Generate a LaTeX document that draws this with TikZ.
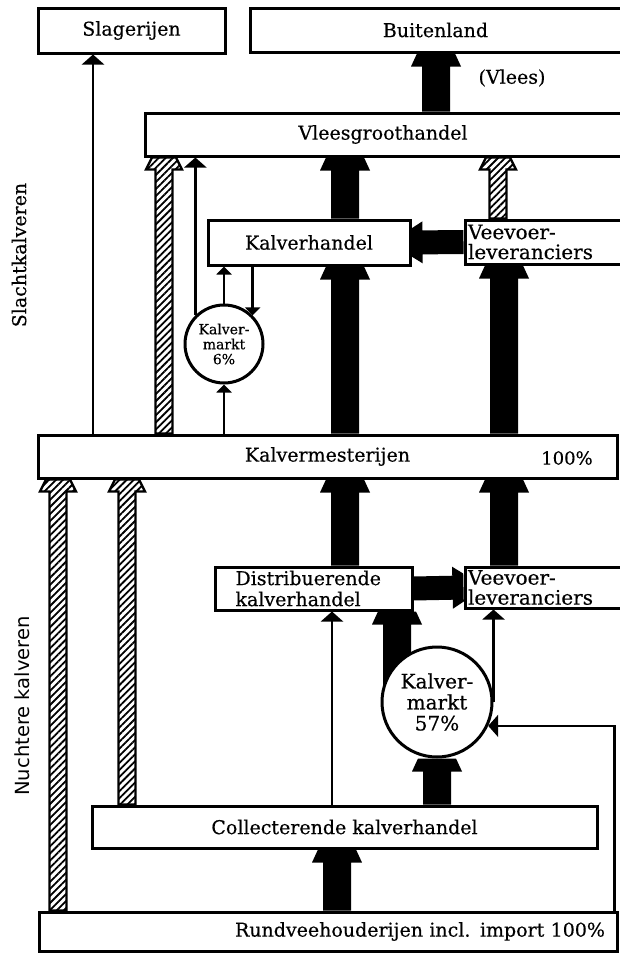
\documentclass[tikz,border=0pt]{standalone}
\usepackage{fontspec}
\setmainfont{DejaVu Serif}[FakeBold=0.4]
\newfontfamily\sidesans{DejaVu Sans}
\usetikzlibrary{calc,arrows.meta,patterns.meta,backgrounds}

% broad arrow: style, shaft half, head half, tip half, head length, from, to
\newcommand{\flowshape}[7]{%
    \coordinate (fa) at #6;
    \coordinate (fb) at #7;
    \coordinate (fc) at ($(fb)!#5!(fa)$);
    \path[#1] ($(fa)!#2!90:(fb)$) -- ($(fc)!#2!90:(fb)$) -- ($(fc)!#3!90:(fb)$)
        -- ($(fb)!#4!-90:(fa)$) -- ($(fb)!#4!90:(fa)$) -- ($(fc)!#3!-90:(fb)$)
        -- ($(fc)!#2!-90:(fb)$) -- ($(fa)!#2!-90:(fb)$) -- cycle;
}
\newcommand{\blackflow}[2]{\flowshape{fill=black}{14pt}{25pt}{19pt}{13pt}{#1}{#2}}
\newcommand{\sideflow}[2]{\flowshape{fill=black}{12pt}{21pt}{14pt}{11pt}{#1}{#2}}
\newcommand{\hatchflow}[2]{\flowshape{hatch}{8.5pt}{18pt}{12pt}{12pt}{#1}{#2}}

\begin{document}
\begin{tikzpicture}[x=1pt,y=-1pt]

    \tikzset{box/.style={draw,line width=3pt,fill=white,inner sep=0pt,
        font=\fontsize{19}{21}\selectfont},
        market/.style={draw,shape=circle,line width=3pt,fill=white,inner sep=0pt,align=center},
        thinflow/.style={line width=2.3pt,-{Triangle[width=22pt,length=10pt]}},
        smallflow/.style={line width=2.3pt,-{Triangle[width=15pt,length=8pt]}},
        hatch/.style={draw=black,line width=2.4pt,
            pattern={Lines[angle=45,distance=5pt,line width=1.8pt]}}}
    \useasboundingbox (0,0) rectangle (619,953);

    \node[box,minimum width=187,minimum height=45] (sl) at (131.5,30.5) {Slagerijen};
    \node[box,minimum width=371,minimum height=44] (bu) at (435.5,30) {Buitenland};
    \node[font=\fontsize{19}{21}\selectfont] (vl) at (512,78) {(Vlees)};
    \node[box,minimum width=476,minimum height=43] (vg) at (383,134.5) {Vleesgroothandel};
    \node[box,minimum width=202,minimum height=45] (kh) at (309,242.5) {Kalverhandel};
    \node[box,minimum width=156,minimum height=44,text width=150,align=left,
        font=\fontsize{20}{20}\selectfont] (vv1) at (543,242) {Veevoer-\\leveranciers};
    \node[market,minimum size=78,font=\fontsize{14}{15}\selectfont] (m6) at (224,344) {Kalver-\\markt\\6\%};
    \node[box,minimum width=579,minimum height=43] (km) at (327.5,456.5) {Kalvermesterijen};
    \node[font=\fontsize{18}{21}\selectfont] (kp) at (567,458) {100\%};
    \node[box,minimum width=197,minimum height=43,text width=156,align=left] (dk) at (313.5,588.5) {Distribuerende\\kalverhandel};
    \node[box,minimum width=156,minimum height=41,text width=150,align=left,
        font=\fontsize{20}{20}\selectfont] (vv2) at (543,587.5) {Veevoer-\\leveranciers};
    \node[market,minimum size=110,font=\fontsize{20}{21}\selectfont] (m57) at (437,702) {Kalver-\\markt\\57\%};
    \node[box,minimum width=505,minimum height=42] (ck) at (344.5,827) {Collecterende kalverhandel};
    \node[box,minimum width=578,minimum height=39,text width=554,align=right] (rv) at (328,931.5) {Rundveehouderijen incl. import 100\%};

    \node[rotate=90,font=\fontsize{19}{21}\selectfont] (sk) at (19,255) {Slachtkalveren};
    \node[rotate=90,font=\sidesans\fontsize{19.5}{21}\selectfont] (nk) at (22,706) {Nuchtere kalveren};

    % columns
    \coordinate (xa) at (58,0);
    \coordinate (xb) at (93,0);
    \coordinate (xc) at (127,0);
    \coordinate (xd) at (164,0);
    \coordinate (xf) at (332,0);
    \coordinate (xe) at (337,0);
    \coordinate (xg) at (345,0);
    \coordinate (xh) at (397,0);
    \coordinate (xi) at (436,0);
    \coordinate (xj) at (498,0);
    \coordinate (xk) at (504,0);

    \begin{scope}[on background layer]
        \fill[white] (0,0) rectangle (619,953);

        \draw[thinflow] (km.north -| xb) -- (sl.south -| xb);
        \hatchflow{(km.north -| xd)}{(vg.south -| xd)}
        \draw[smallflow] (km.north -| m6) -- (m6.south);
        \draw[smallflow] (m6.north) -- (kh.south -| m6);
        \draw[smallflow] (kh.south -| m6.45) -- (m6.45);
        \draw[thinflow] (m6.135) -- (vg.south -| m6.135);
        \blackflow{(km.north -| xg)}{(kh.south -| xg)}
        \blackflow{(kh.north -| xg)}{(vg.south -| xg)}
        \blackflow{(vg.north -| xi)}{(bu.south -| xi)}
        \blackflow{(km.north -| xk)}{(vv1.south -| xk)}
        \hatchflow{(vv1.north -| xj)}{(vg.south -| xj)}
        \sideflow{(vv1.west)}{(kh.east)}

        \hatchflow{(rv.north -| xa)}{(km.south -| xa)}
        \hatchflow{(ck.north -| xc)}{(km.south -| xc)}
        \blackflow{(dk.north -| xg)}{(km.south -| xg)}
        \blackflow{(vv2.north -| xk)}{(km.south -| xk)}
        \sideflow{(dk.east)}{(vv2.west)}
        \draw[thinflow] (ck.north -| xf) -- (dk.south -| xf);
        \blackflow{(rv.north -| xe)}{(ck.south -| xe)}
        \blackflow{(ck.north -| m57)}{(m57.south)}
        \blackflow{(m57.center -| xh)}{(dk.south -| xh)}
        \draw[thinflow] (m57.east) -- (vv2.south -| m57.east);
        \draw[thinflow] ([xshift=-4pt]rv.north east) |- (m57.-25);
    \end{scope}
\end{tikzpicture}
\end{document}
